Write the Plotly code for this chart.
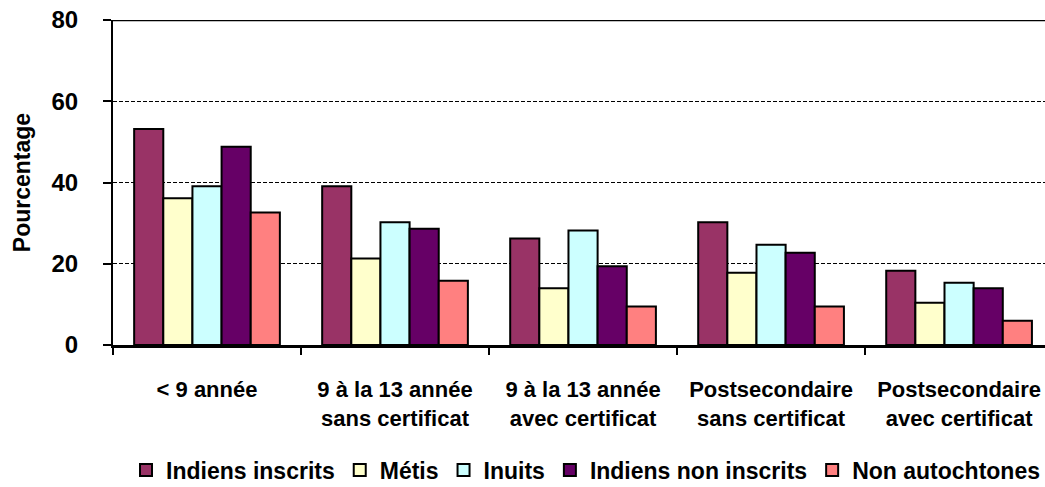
import plotly.graph_objects as go

# Niveau de scolarité (catégories de l'axe horizontal)
categories = [
    "< 9 année",
    "9 à la 13 année<br>sans certificat",
    "9 à la 13 année<br>avec certificat",
    "Postsecondaire<br>sans certificat",
    "Postsecondaire<br>avec certificat",
]

# Pourcentages par groupe
indiens_inscrits = [53.2, 39.1, 26.2, 30.2, 18.3]
metis = [36.1, 21.3, 14.0, 17.8, 10.4]
inuits = [39.1, 30.2, 28.2, 24.7, 15.3]
indiens_non_inscrits = [48.8, 28.6, 19.4, 22.7, 14.0]
non_autochtones = [32.6, 15.8, 9.5, 9.5, 6.0]

series_names = ["Indiens inscrits", "Métis", "Inuits",
                "Indiens non inscrits", "Non autochtones"]
series_values = [indiens_inscrits, metis, inuits,
                 indiens_non_inscrits, non_autochtones]
series_colors = ["#993366", "#FFFFCC", "#CCFFFF", "#660066", "#FF8080"]

y_ticks = [0, 20, 40, 60, 80]

FONT = "Liberation Sans, Arial, sans-serif"

fig = go.Figure()
for name, vals, col in zip(series_names, series_values, series_colors):
    fig.add_trace(go.Bar(
        x=categories, y=vals, name=name,
        marker=dict(color=col, line=dict(color="black", width=2)),
    ))

fig.update_layout(
    width=1045, height=487,
    margin=dict(l=113, r=0, t=20, b=142, autoexpand=False),
    paper_bgcolor="white", plot_bgcolor="white",
    barmode="group", bargap=0.225, bargroupgap=0,
    font=dict(family=FONT, color="black"),
    showlegend=True,
    legend=dict(
        orientation="h", x=0.507, xanchor="center",
        y=-0.385, yanchor="middle",
        font=dict(family=FONT, size=23, color="black", weight="bold"),
        itemwidth=30, tracegroupgap=0,
    ),
)

fig.update_xaxes(
    range=[-0.5, 4.457], automargin=False,
    showline=True, linecolor="black", linewidth=2.5,
    ticks="outside", tickson="boundaries", ticklen=7, tickwidth=2, tickcolor="black",
    tickfont=dict(family=FONT, size=22, color="black", weight="bold"),
    ticklabelstandoff=23,
    showgrid=False,
)

fig.update_yaxes(
    range=[0, 80], tickvals=y_ticks, automargin=False,
    showline=True, linecolor="black", linewidth=2,
    ticks="outside", ticklen=8, tickwidth=2, tickcolor="black",
    tickfont=dict(family=FONT, size=24, color="black", weight="bold"),
    ticklabelstandoff=20,
    showgrid=True, gridcolor="black", gridwidth=1, griddash="4px,2px",
    zeroline=False,
    title=dict(text="Pourcentage", standoff=14,
               font=dict(family=FONT, size=23, color="black", weight="bold")),
)

# trait plein en haut de la zone de tracé
fig.add_shape(type="line", xref="paper", yref="y", x0=0, x1=1, y0=80, y1=80,
              line=dict(color="black", width=2.5))

fig.write_html("out.html")
